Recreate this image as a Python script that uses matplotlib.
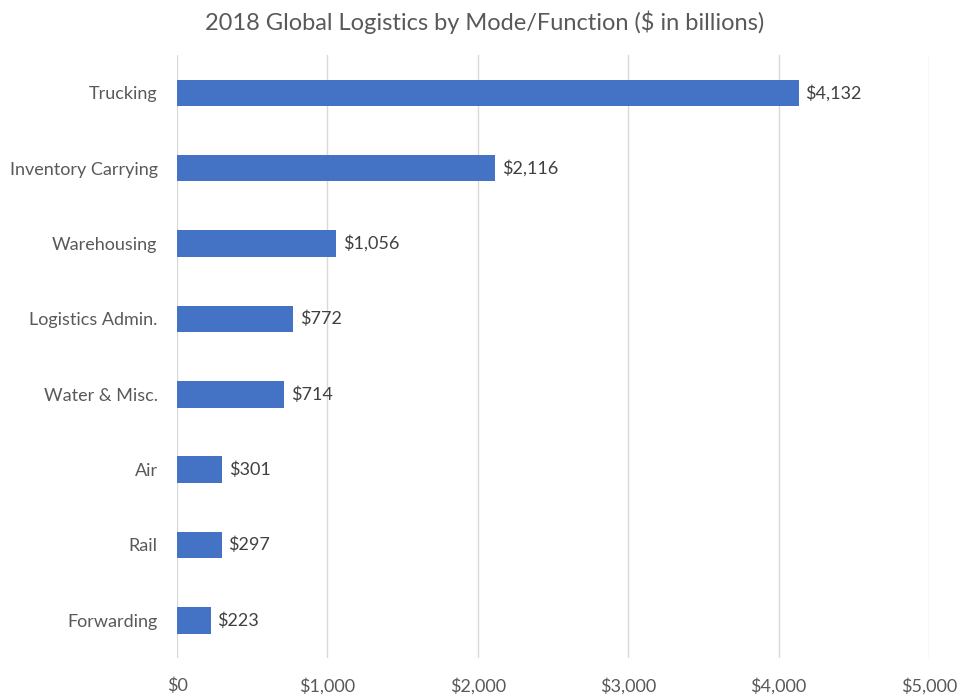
import matplotlib.pyplot as plt
from matplotlib.ticker import FuncFormatter

categories = ['Trucking', 'Inventory Carrying', 'Warehousing', 'Logistics Admin.',
              'Water & Misc.', 'Air', 'Rail', 'Forwarding']
values = [4132, 2116, 1056, 772, 714, 301, 297, 223]
x_ticks = [0, 1000, 2000, 3000, 4000, 5000]

plt.rcParams['font.family'] = ['Lato', 'DejaVu Sans']
text_color = '#595959'

fig = plt.figure(figsize=(9.7, 7), dpi=100)
ax = fig.add_axes([0.1825, 0.06, 0.7753, 0.861])

pos = list(range(len(categories)))
bars = ax.barh(pos, values, height=0.35, color='#4472C4', zorder=3)
ax.set_ylim(len(categories) - 0.5, -0.5)
ax.set_xlim(0, 5000)
ax.set_xticks(x_ticks)
ax.xaxis.set_major_formatter(FuncFormatter(lambda v, p: '${:,.0f}'.format(v)))
ax.set_yticks(pos)
ax.set_yticklabels(categories)

# value labels to the right of each bar
for b, v in zip(bars, values):
    ax.text(b.get_width() + 45, b.get_y() + b.get_height() / 2, '${:,}'.format(v),
            va='center', ha='left', fontsize=13, color='#404040')

ax.grid(axis='x', color='#D9D9D9', linewidth=1, zorder=0)
for s in ax.spines.values():
    s.set_visible(False)
ax.tick_params(axis='both', length=0, labelsize=13, colors=text_color)
ax.tick_params(axis='y', pad=14)
ax.tick_params(axis='x', pad=14)

fig.suptitle('2018 Global Logistics by Mode/Function ($ in billions)',
             y=0.985, fontsize=17, color=text_color)

fig.savefig('out.png', dpi=100)
